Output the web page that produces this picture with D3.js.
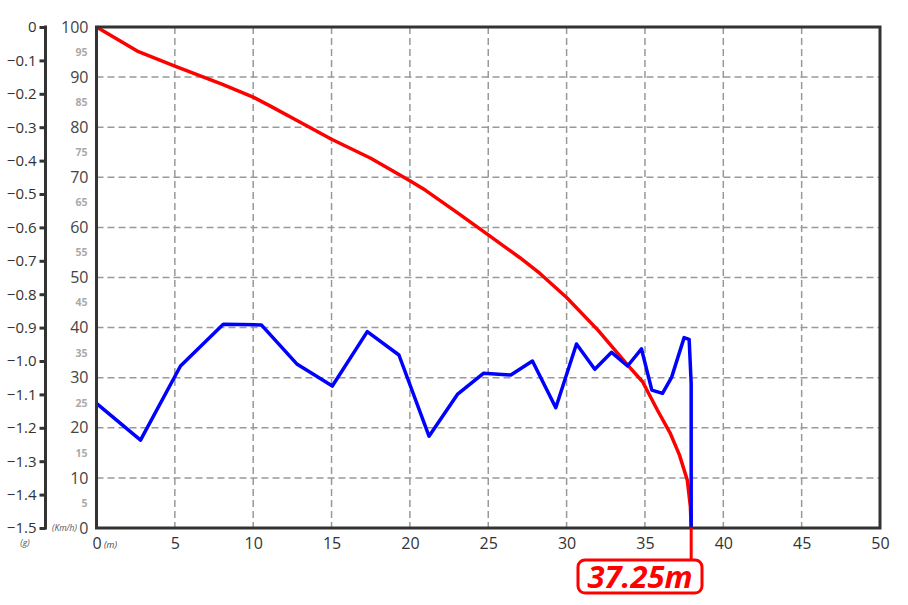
<!DOCTYPE html>
<html><head><meta charset="utf-8">
<script src="https://cdn.jsdelivr.net/npm/d3@7"></script>
<style>body{margin:0;background:#fff}svg{display:block}</style>
</head><body><svg id="c" width="908" height="605"></svg>
<script>
// Speed (km/h) vs distance (m)
const speedDist = [0, 2.6, 5, 8, 10, 11.1, 13, 15, 17.5, 20, 21, 23, 25, 27, 28.3, 30, 32, 33.9, 34.85, 35.8, 36.6, 37.2, 37.7, 37.9, 37.95];
const speedVal  = [100, 95.2, 92.2, 88.6, 86, 84.2, 81, 77.6, 73.8, 69.3, 67.4, 63, 58.5, 54, 50.8, 46, 39.5, 32.5, 29.2, 23.5, 19, 14.6, 9.6, 4.3, 0];
// Deceleration (g) vs distance (m)
const gDist = [0, 2.81, 5.36, 8.09, 10.52, 12.81, 15.05, 17.28, 19.30, 21.22, 23.03, 24.69, 26.44, 27.82, 29.31, 30.63, 31.80, 32.87, 33.89, 34.78, 35.44, 36.12, 36.70, 37.50, 37.82, 37.95, 37.95];
const gVal  = [-1.127, -1.237, -1.015, -0.890, -0.892, -1.010, -1.075, -0.912, -0.982, -1.225, -1.100, -1.037, -1.042, -1.0, -1.140, -0.949, -1.025, -0.974, -1.015, -0.964, -1.087, -1.097, -1.049, -0.930, -0.935, -1.067, -1.5];
const xTicks = [0, 5, 10, 15, 20, 25, 30, 35, 40, 45, 50];
const speedMajor = [0, 10, 20, 30, 40, 50, 60, 70, 80, 90, 100];
const speedMinor = [5, 15, 25, 35, 45, 55, 65, 75, 85, 95];
const gTicks = [0, -0.1, -0.2, -0.3, -0.4, -0.5, -0.6, -0.7, -0.8, -0.9, -1.0, -1.1, -1.2, -1.3, -1.4, -1.5];
const stopLabel = "37.25m";

const L = 96.5, R = 880, T = 27, B = 528;
const svg = d3.select("#c");
const x = d3.scaleLinear().domain([0, 50]).range([L, R]);
const yS = d3.scaleLinear().domain([0, 100]).range([B, T]);
const yG = d3.scaleLinear().domain([-1.5, 0]).range([B, T]);
const font = "'Open Sans', 'Noto Sans', sans-serif";

// grid
const grid = svg.append("g").attr("stroke", "#999").attr("stroke-width", 1.5).attr("stroke-dasharray", "7,4");
grid.selectAll("line.v").data(xTicks.filter(d => d > 0 && d < 50)).join("line")
  .attr("x1", d => x(d)).attr("x2", d => x(d)).attr("y1", T).attr("y2", B);
grid.selectAll("line.h").data(speedMajor.filter(d => d > 0 && d < 100)).join("line")
  .attr("x1", L).attr("x2", R).attr("y1", d => yS(d)).attr("y2", d => yS(d));

// lines
const lineS = d3.line().x((d, i) => x(speedDist[i])).y(d => yS(d));
svg.append("path").attr("d", lineS(speedVal)).attr("fill", "none").attr("stroke", "#ff0000")
  .attr("stroke-width", 3.5).attr("stroke-linejoin", "round");
const lineG = d3.line().x((d, i) => x(gDist[i])).y(d => yG(d));
svg.append("path").attr("d", lineG(gVal)).attr("fill", "none").attr("stroke", "#0000ff")
  .attr("stroke-width", 3.5).attr("stroke-linejoin", "round");

// frame
svg.append("rect").attr("x", L).attr("y", T).attr("width", R - L).attr("height", B - T)
  .attr("fill", "none").attr("stroke", "#333").attr("stroke-width", 3);

// x axis labels
const xAxis = d3.axisBottom(x).tickValues(xTicks).tickSize(0).tickPadding(10).tickFormat(d3.format("d"));
const gx = svg.append("g").attr("transform", `translate(0,${B})`).call(xAxis);
gx.select(".domain").remove();
gx.selectAll("text").attr("font-family", font).attr("font-size", 16).attr("fill", "#333");
svg.append("text").attr("x", 104).attr("y", 548).text("(m)")
  .attr("font-family", font).attr("font-size", 9).attr("font-style", "italic").attr("fill", "#444");

// speed axis labels
const sAxis = d3.axisLeft(yS).tickValues(speedMajor).tickSize(0).tickPadding(8).tickFormat(d3.format("d"));
const gs = svg.append("g").attr("transform", `translate(${L},0)`).call(sAxis);
gs.select(".domain").remove();
gs.selectAll("text").attr("font-family", font).attr("font-size", 16).attr("fill", "#444");
const sAxis2 = d3.axisLeft(yS).tickValues(speedMinor).tickSize(0).tickPadding(9).tickFormat(d3.format("d"));
const gs2 = svg.append("g").attr("transform", `translate(${L},0)`).call(sAxis2);
gs2.select(".domain").remove();
gs2.selectAll("text").attr("font-family", font).attr("font-size", 10.5).attr("font-weight", "bold").attr("fill", "#aaa");
svg.append("text").attr("x", 52).attr("y", 531).text("(Km/h)")
  .attr("font-family", font).attr("font-size", 8.5).attr("font-style", "italic").attr("fill", "#555");

// g axis
const gAxis = d3.axisLeft(yG).tickValues(gTicks).tickSize(6).tickPadding(3)
  .tickFormat(d => d === 0 ? "0" : d3.format(".1f")(d));
const gg = svg.append("g").attr("transform", "translate(45.5,0)").call(gAxis);
gg.select(".domain").attr("stroke", "#333").attr("stroke-width", 3).attr("d", `M0,${T - 1.5}V${B + 1.5}`);
gg.selectAll(".tick line").attr("stroke", "#333").attr("stroke-width", 3);
gg.selectAll("text").attr("font-family", font).attr("font-size", 15).attr("fill", "#333");
svg.append("text").attr("x", 25).attr("y", 546).attr("text-anchor", "middle").text("(g)")
  .attr("font-family", font).attr("font-size", 8.5).attr("font-style", "italic").attr("fill", "#555");

// stop distance marker
const stopX = x(speedDist[speedDist.length - 1]);
svg.append("line").attr("x1", stopX).attr("x2", stopX).attr("y1", B).attr("y2", 560)
  .attr("stroke", "#ff0000").attr("stroke-width", 3);
svg.append("rect").attr("x", 578).attr("y", 560).attr("width", 124).attr("height", 33).attr("rx", 7)
  .attr("fill", "#fff").attr("stroke", "#ff0000").attr("stroke-width", 3);
svg.append("text").attr("x", 640).attr("y", 588).attr("text-anchor", "middle").text(stopLabel)
  .attr("font-family", font).attr("font-size", 31).attr("font-weight", "bold").attr("font-style", "italic").attr("fill", "#ff0000");
</script></body></html>
